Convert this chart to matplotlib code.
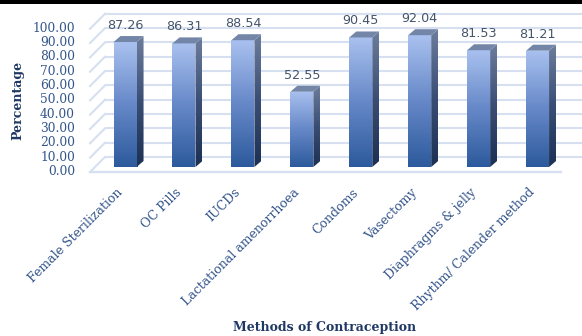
import numpy as np
import matplotlib
matplotlib.use("Agg")
import matplotlib.pyplot as plt
from matplotlib.patches import Polygon, Rectangle
from matplotlib.colors import LinearSegmentedColormap
import matplotlib.transforms as mtransforms

categories = ["Female Sterilization", "OC Pills", "IUCDs", "Lactational amenorrhoea",
              "Condoms", "Vasectomy", "Diaphragms & jelly", "Rhythm/ Calender method"]
values = [87.26, 86.31, 88.54, 52.55, 90.45, 92.04, 81.53, 81.21]
yticks = list(range(0, 101, 10))
ylabel = "Percentage"
xlabel = "Methods of Contraception"

W, H = 582, 336
fig = plt.figure(figsize=(W / 100, H / 100), dpi=100)

# geometry in pixels -> axes placement
ux = 58.93      # px per category
uy = 1.432      # px per percent
left_px, right_px = 95, 582
bottom_px = 167  # from top
ax = fig.add_axes([left_px / W, (H - bottom_px) / H, (right_px - left_px) / W, (100 * uy) / H])
x0 = -30.05 / ux
ax.set_xlim(x0, x0 + (right_px - left_px) / ux)
ax.set_ylim(0, 100)
for s in ax.spines.values():
    s.set_visible(False)

def px2x(p):
    return x0 + (p - left_px) / ux

# 3D wall offsets (data units)
front_dx, front_dy = -5 / ux, -5 / uy
back_dx, back_dy = 10 / ux, 10 / uy
grid_col = "#d6e0f0"
xl_front = px2x(90)
xl_back = px2x(105)
xr_back = px2x(590)
xr_front = px2x(561)
for v in yticks:
    ax.plot([xl_back, xr_back], [v + back_dy, v + back_dy], color=grid_col, lw=1.5,
            clip_on=False, zorder=1, solid_capstyle="butt")
    ax.plot([xl_front, xl_back], [v + front_dy, v + back_dy], color=grid_col, lw=1.5,
            clip_on=False, zorder=1)
ax.plot([xl_front, xr_front], [front_dy, front_dy], color=grid_col, lw=1.7, clip_on=False, zorder=1)

# bars
bw = 23 / ux
ddx, ddy = 7 / ux, 6 / uy
front_cmap = LinearSegmentedColormap.from_list("f", ["#2c5a9c", "#6688c8", "#a9c1ef"])
side_cmap = LinearSegmentedColormap.from_list("s", ["#1c3054", "#3a4e75", "#6d7d9c"])
grad = np.linspace(0, 1, 256).reshape(-1, 1)
xs = np.arange(len(values))
bars = ax.bar(xs, values, width=bw, color="none", edgecolor="none", zorder=3)
for i, (b, v) in enumerate(zip(bars, values)):
    xl = b.get_x()
    xr = xl + b.get_width()
    im = ax.imshow(grad, cmap=front_cmap, origin="lower", extent=[xl, xr, 0, v],
                   aspect="auto", zorder=3, interpolation="bilinear")
    im.set_clip_path(b)
    side = Polygon([(xr, 0), (xr + ddx, ddy), (xr + ddx, v + ddy), (xr, v)],
                   closed=True, facecolor="none", edgecolor="none", zorder=3)
    ax.add_patch(side)
    im2 = ax.imshow(grad, cmap=side_cmap, origin="lower", extent=[xr, xr + ddx, 0, v + ddy],
                    aspect="auto", zorder=3, interpolation="bilinear")
    im2.set_clip_path(side)
    top = Polygon([(xl, v), (xr, v), (xr + ddx, v + ddy), (xl + ddx, v + ddy)],
                  closed=True, facecolor="#7386a8", edgecolor="none", zorder=4)
    ax.add_patch(top)
    ax.annotate(f"{v:.2f}", xy=(b.get_x() + b.get_width() / 2, v + ddy), xytext=(0, 3),
                textcoords="offset points", ha="center", va="bottom",
                family="DejaVu Sans", fontsize=9.2, color="#44546a", zorder=5)

ax.set_xlim(x0, x0 + (right_px - left_px) / ux)
ax.set_ylim(0, 100)

# y ticks (front plane)
ax.set_yticks(yticks)
ax.set_yticklabels([f"{v:.2f}" for v in yticks], family="DejaVu Serif", fontsize=8.8, color="#34558b")
ax.tick_params(axis="y", length=0, pad=14.4)
off = mtransforms.ScaledTranslation(0, -3 / 100, fig.dpi_scale_trans)
for lbl in ax.get_yticklabels():
    lbl.set_transform(lbl.get_transform() + off)

# category labels along front edge (baseline-right anchored)
ax.set_xticks([])
for i, cat in enumerate(categories):
    ax.annotate(cat, xy=(xs[i], 0), xycoords=("data", "axes fraction"),
                xytext=(-1.5, -18.7), textcoords="offset points",
                rotation=45, ha="right", va="baseline", rotation_mode="anchor",
                family="DejaVu Serif", fontsize=9, color="#34558b")

fig.text(17.5 / W, 1 - 100 / H, ylabel, rotation=90, ha="center", va="center",
         family="DejaVu Serif", fontweight="bold", fontsize=9, color="#1f3864")
fig.text(325 / W, 1 - 328 / H, xlabel, ha="center", va="center",
         family="DejaVu Serif", fontweight="bold", fontsize=9, color="#1f3864")

fig.patches.append(Rectangle((0, 1 - 3.5 / H), 1, 3.5 / H, transform=fig.transFigure,
                             facecolor="black", edgecolor="none"))

fig.savefig("out.png", dpi=100)
